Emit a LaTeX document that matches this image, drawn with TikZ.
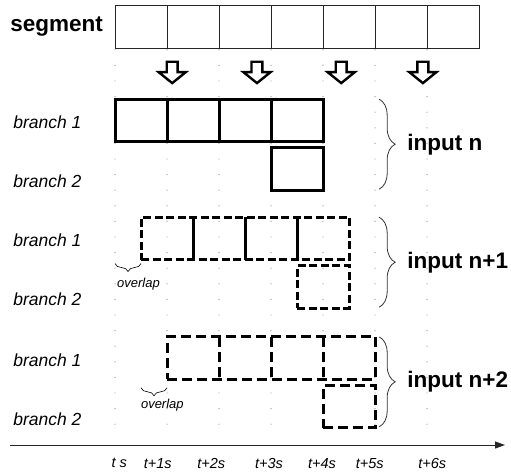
\documentclass[tikz,border=0pt]{standalone}
\usepackage{fontspec}
\setmainfont{Liberation Sans}
\usetikzlibrary{arrows.meta,calc,decorations.pathreplacing}
\tikzset{griddot/.style={fill=black!35},
  segbox/.style={draw=black!85,line width=0.8pt,minimum width=364pt,minimum height=43pt,inner sep=0pt,outer sep=0pt,anchor=north west},
  segline/.style={draw=black!85,line width=0.8pt},
  rowbox/.style={draw,line width=3pt,minimum width=208pt,minimum height=42.5pt,inner sep=0pt,outer sep=0pt,anchor=north west},
  solidrow/.style={rowbox},
  dashrowA/.style={rowbox,dash pattern=on 8pt off 3.5pt},
  dashrowB/.style={rowbox,dash pattern=on 10pt off 5pt},
  solidline/.style={line width=3pt},
  dashline/.style={line width=3pt,dash pattern=on 10pt off 5pt},
  bigbold/.style={font=\fontsize{22.5}{26}\selectfont\bfseries,inner sep=0pt},
  branchlab/.style={font=\fontsize{17.5}{21}\selectfont\itshape,anchor=west,inner sep=0pt},
  smalllab/.style={font=\fontsize{13}{15}\selectfont\itshape,inner sep=0pt},
  ticklab/.style={font=\fontsize{14.5}{17}\selectfont\itshape,inner sep=0pt},
  blockarrow/.style={draw,fill=white,line width=2.4pt,line join=miter},
  bracedeco/.style={decorate,decoration={brace,amplitude=16pt},line width=0.8pt,draw=black!80},
  smallbrace/.style={decorate,decoration={brace,amplitude=8pt},line width=0.6pt},
  timeaxis/.style={line width=0.9pt,draw=black!85,-{Triangle[length=10pt,width=7pt]}}}
\begin{document}
\begin{tikzpicture}[x=52pt,y=52pt]
\useasboundingbox (-2.212,-0.596) rectangle (7.615,8.558);
% grid
\foreach \i in {0,...,6}
  \foreach \k in {0,...,24}
    \fill[griddot] (\i,{7.6-0.3*\k}) circle (0.7pt);
% segment row
\node[segbox] (seg) at (0,8.46) {};
\foreach \i in {1,...,6}
  \draw[segline] ($(seg.north west)!\i/7!(seg.north east)$) -- ($(seg.south west)!\i/7!(seg.south east)$);
\node[bigbold,anchor=east] (segname) at (-0.23,8.04) {segment};
% block arrows
\foreach \ax in {1.1,2.73,4.35,5.92}
  \draw[blockarrow] ({\ax-0.105},7.37) -- ({\ax+0.105},7.37) -- ({\ax+0.105},7.17) -- ({\ax+0.26},7.17)
    -- (\ax,6.96) -- ({\ax-0.26},7.17) -- ({\ax-0.105},7.17) -- cycle;
% inputs
\foreach \g/\dx/\top/\rowsty/\divsty/\lab in {0/0/6.65/solidrow/solidline/{input n},1/0.5/4.38/dashrowA/solidline/{input n+1},2/1/2.08/dashrowB/dashline/{input n+2}}{
  \node[\rowsty] (row\g) at (\dx,\top) {};
  \foreach \i in {1,2,3}
    \draw[\divsty] ($(row\g.north west)!\i/4!(row\g.north east)$) -- ($(row\g.south west)!\i/4!(row\g.south east)$);
  \node[\rowsty,minimum width=52pt] (last\g) at ({\dx+3},{\top-0.93}) {};
  \node[branchlab] (bra\g) at (-1.96,{\top-0.45}) {branch 1};
  \node[branchlab] (brb\g) at (-1.96,{\top-1.58}) {branch 2};
  \coordinate (bt\g) at (5.08,\top);
  \coordinate (bb\g) at (5.08,{\top-1.73});
  \draw[bracedeco] (bt\g) -- (bb\g);
  \node[bigbold,anchor=west] (inp\g) at (5.62,{\top-0.865}) {\lab};
}
% overlaps
\coordinate (ova1) at (0.5,3.49); \coordinate (ovb1) at (0,3.49);
\draw[smallbrace] (ova1) -- (ovb1);
\node[smalllab] (ovl1) at (0.45,3.1) {overlap};
\coordinate (ova2) at (1,1.1); \coordinate (ovb2) at (0.5,1.1);
\draw[smallbrace] (ova2) -- (ovb2);
\node[smalllab] (ovl2) at (0.91,0.77) {overlap};
% time axis
\coordinate (axs) at (-2.02,0); \coordinate (axe) at (7.5,0);
\draw[timeaxis] (axs) -- (axe);
\foreach \n/\x/\t in {0/0.08/{t s},1/0.82/{t+1s},2/1.85/{t+2s},3/2.96/{t+3s},4/3.98/{t+4s},5/4.9/{t+5s},6/6.1/{t+6s}}
  \node[ticklab] (tk\n) at (\x,-0.35) {\t};
\end{tikzpicture}
\end{document}
